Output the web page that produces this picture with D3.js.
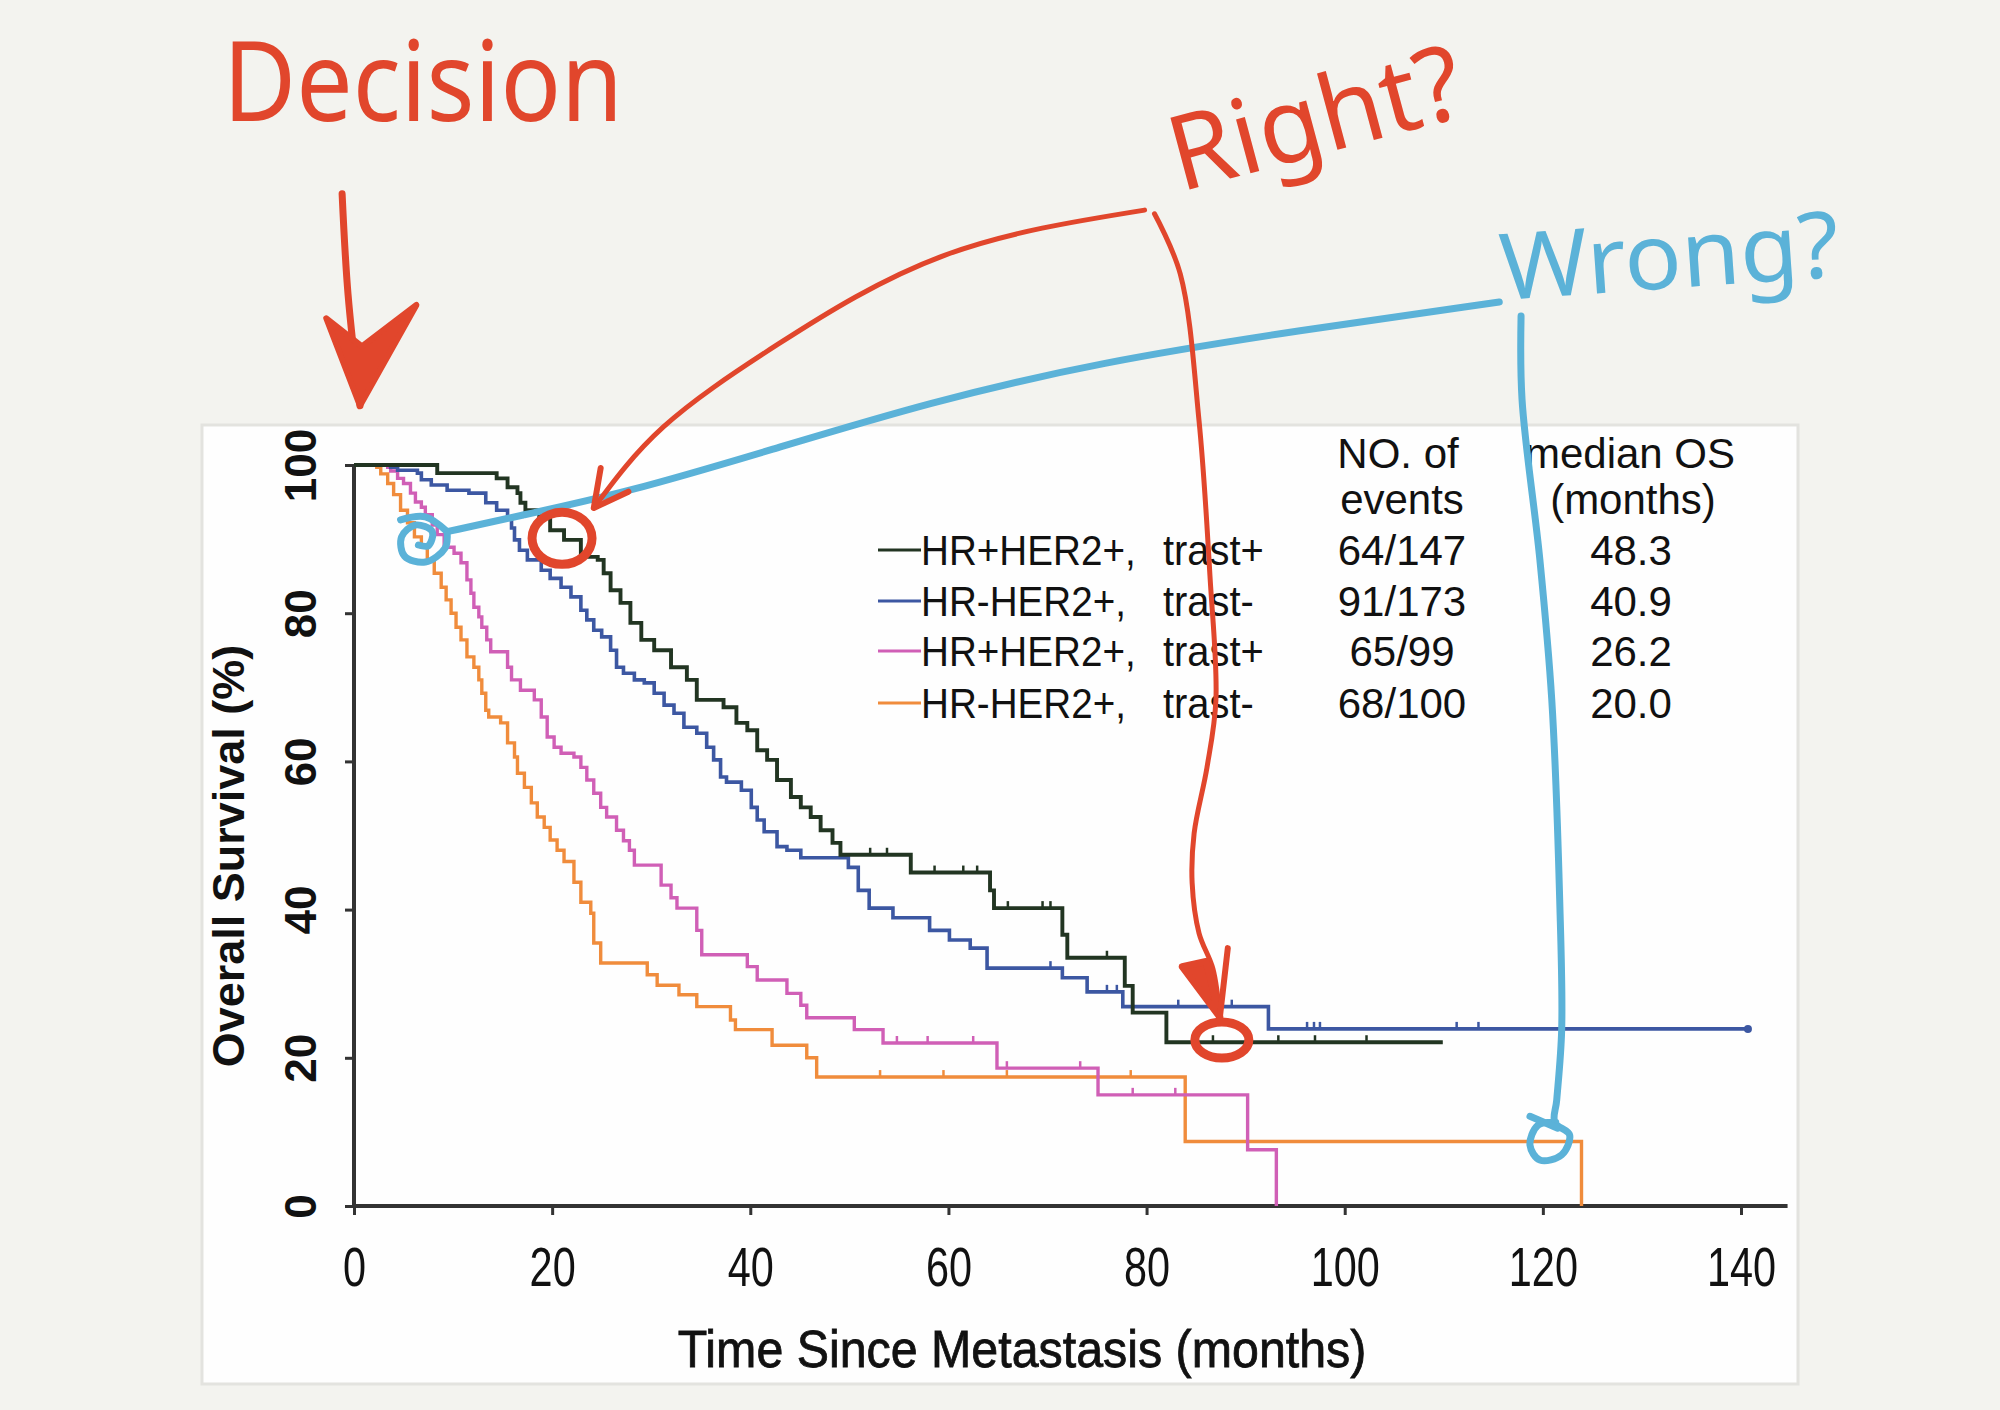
<!DOCTYPE html>
<html>
<head>
<meta charset="utf-8">
<script src="https://cdn.jsdelivr.net/npm/d3@7"></script>
<style>
  body { margin: 0; background: #f3f3ef; }
  svg { display: block; }
</style>
</head>
<body>
<div id="chart"></div>
<script>
// Kaplan-Meier steps: [months, survival %]
const greenSteps = [[0,100],[8.4,98.9],[14.4,98.2],[15.5,97.0],[16.5,96.2],[16.8,94.9],[17.3,93.9],[18.7,93.0],[19.8,91.2],[21.2,89.9],[22.9,87.6],[24.6,87.2],[25.2,85.4],[25.9,83.1],[26.9,81.4],[27.9,78.7],[29.0,76.4],[30.3,75.0],[32.0,72.7],[33.6,71.0],[34.6,68.3],[37.3,67.3],[38.6,65.2],[39.7,64.2],[40.7,61.5],[41.7,60.2],[42.7,57.5],[44.1,55.2],[45.1,53.8],[46.1,52.5],[47.1,50.7],[48.3,49.0],[49.1,47.4],[56.2,45.0],[64.2,42.6],[64.6,40.2],[71.5,36.6],[72.0,33.5],[77.8,29.7],[78.6,26.1],[82.0,22.1],[109.9,22.1]];
const blueSteps = [[0,100],[3.7,99.7],[4.4,99.3],[6.4,98.9],[6.8,98.0],[7.8,97.3],[9.4,96.6],[11.6,96.2],[13.3,94.9],[14.4,93.9],[15.5,92.8],[15.9,91.5],[16.2,89.9],[16.7,88.5],[17.5,87.2],[18.9,85.8],[19.8,84.7],[20.9,83.5],[21.9,82.2],[22.9,80.4],[23.5,79.1],[24.2,77.7],[25.0,76.8],[25.9,75.0],[26.5,72.7],[27.2,71.9],[28.3,71.0],[29.3,70.6],[30.3,69.2],[31.3,67.6],[32.3,66.5],[33.3,64.6],[34.6,63.8],[35.6,61.9],[36.3,60.2],[37.0,57.9],[37.6,57.2],[39.1,56.1],[40.1,53.8],[40.7,52.1],[41.4,50.5],[42.7,48.5],[43.7,48.0],[45.1,47.0],[49.9,45.7],[50.9,42.6],[52.0,40.2],[54.4,38.9],[58.1,37.2],[60.1,35.9],[62.2,34.8],[63.9,32.1],[71.5,30.8],[74.0,28.9],[77.6,26.9],[92.3,23.9],[140.7,23.9]];
const pinkSteps = [[0,100],[3.4,99.7],[3.7,99.2],[4.4,98.2],[5.0,97.5],[5.7,96.2],[6.2,95.0],[6.8,94.3],[7.2,93.3],[7.9,91.9],[8.4,90.6],[9.1,88.9],[10.1,88.1],[10.8,86.8],[11.4,84.5],[11.8,82.7],[12.1,80.8],[12.6,79.5],[12.9,78.1],[13.4,76.4],[13.8,74.8],[15.5,72.7],[15.9,71.0],[16.8,69.6],[18.2,68.3],[18.9,66.0],[19.5,63.3],[20.2,61.9],[20.9,61.1],[22.2,60.6],[22.9,59.2],[23.5,57.5],[24.2,55.7],[24.9,53.8],[25.5,52.5],[26.5,50.7],[27.2,49.3],[27.8,48.0],[28.3,46.0],[31.0,43.3],[32.0,41.6],[32.6,40.2],[34.6,37.2],[35.1,33.9],[39.7,32.3],[40.7,30.5],[43.7,28.7],[45.1,27.1],[45.7,25.4],[50.5,23.8],[53.4,22.0],[64.9,18.6],[75.1,15.0],[90.2,7.6],[93.1,0]];
const orangeSteps = [[0,100],[2.3,99.7],[2.7,98.8],[3.4,97.5],[4.0,96.0],[4.7,93.9],[5.4,92.2],[6.1,90.3],[6.8,88.9],[7.4,87.2],[8.1,85.4],[8.8,83.5],[9.3,81.8],[9.8,80.0],[10.3,78.1],[10.8,76.4],[11.4,74.1],[12.1,72.7],[12.6,71.0],[12.9,69.2],[13.3,66.9],[13.6,66.0],[14.8,65.2],[15.5,62.5],[16.2,60.6],[16.5,58.4],[17.2,56.5],[17.9,54.4],[18.5,52.5],[19.2,51.1],[19.8,49.4],[20.5,48.0],[21.2,46.5],[22.2,43.7],[22.9,41.0],[23.9,39.5],[24.2,35.5],[24.9,32.8],[29.6,31.2],[30.6,29.8],[32.8,28.5],[34.6,26.9],[38.0,25.1],[38.5,23.8],[42.2,21.7],[45.7,20.0],[46.7,17.4],[83.9,8.7],[123.9,0]];

// censored observations (months) seen as small ticks on the curves
const greenCensor = [52.1, 53.8, 58.6, 61.5, 62.9, 66.0, 69.5, 70.3, 76.0, 86.7, 93.3, 97.0, 102.2];
const blueCensor = [70.3, 76.0, 77.0, 83.2, 88.6, 96.2, 96.9, 97.5, 111.3, 113.5];
const pinkCensor = [54.8, 57.9, 62.5, 65.9, 73.3, 78.6, 82.9];
const orangeCensor = [53.1, 59.5, 65.9, 78.4];

// legend table
const groupLabels = ["HR+HER2+,", "HR-HER2+,", "HR+HER2+,", "HR-HER2+,"];
const trastLabels = ["trast+", "trast-", "trast+", "trast-"];
const eventCounts = ["64/147", "91/173", "65/99", "68/100"];
const medianOS = ["48.3", "40.9", "26.2", "20.0"];
const seriesColors = ["#223522", "#3c57a2", "#d05fb6", "#f08c3c"];

const xTicks = [0, 20, 40, 60, 80, 100, 120, 140];
const yTicks = [0, 20, 40, 60, 80, 100];

// hand drawn marks, in chart units [months, %]
const decisionShaft = [[-1.2,136.6],[-0.6,123],[0.6,108.0]];
const decisionHead = [[0.6,108.0],[-2.8,119.8],[0.8,116.0],[6.3,121.6]];
const rightArcLeft = [[79.8,134.4],[59.6,128.3],[42.8,116.3],[31.2,105.1],[24.2,94.2]];
const rightHeadLeft = [[24.9,99.6],[24.2,94.2],[27.7,96.4]];
const rightArcDown = [[80.8,133.9],[83.4,125.8],[85.3,105.9],[86.4,85.0],[87.0,68.3],[86.1,59.2],[84.8,50.3],[84.6,43.6],[85.3,36.8],[86.7,32.0],[87.4,25.5]];
const rightHeadDown = [[83.6,32.3],[87.4,25.5],[86.0,33.0]];
const rightHeadDownWing = [[87.4,25.5],[88.2,34.8]];
const rightRings = [[21.0,90.1,30,26],[87.6,22.4,27,18]];
const wrongArcLeft = [[115.6,122.0],[95.5,118.2],[75.3,113.9],[58.1,108.5],[42.0,102.0],[27.6,96.3],[16.2,93.0],[9.4,91.0]];
const wrongLoopLeft = [[9.4,91.0],[9.2,88.8],[7.2,86.9],[5.1,87.7],[4.8,90.3],[6.2,91.9],[7.9,91.0],[7.5,89.1],[6.5,89.2]];
const wrongTailLeft = [[4.7,92.6],[7.2,93.0],[9.4,91.0]];
const wrongArcDown = [[117.8,120.1],[117.9,108.8],[119.7,87.2],[120.9,68.3],[121.7,41.3],[121.9,23.8],[121.4,14.3],[121.2,11.3],[122.7,9.6],[121.9,6.9],[119.7,6.2],[118.7,8.2],[119.5,10.9],[121.3,11.3]];
const wrongTailDown = [[118.7,12.1],[121.5,10.5]];

const red = "#e1462c", cyan = "#5bb2d8";

const svg = d3.select("#chart").append("svg")
    .attr("width", 2000)
    .attr("height", 1410);

svg.append("rect")
    .attr("width", 2000).attr("height", 1410)
    .attr("fill", "#f3f3ef");

// white slide panel
svg.append("rect")
    .attr("x", 202).attr("y", 425)
    .attr("width", 1596).attr("height", 959)
    .attr("fill", "#fefefe")
    .attr("stroke", "#e3e3df")
    .attr("stroke-width", 3);

const x = d3.scaleLinear().domain([0, 140]).range([354, 1741]);
const y = d3.scaleLinear().domain([0, 100]).range([1206, 465]);

// axes
const xAxis = svg.append("g")
    .attr("transform", "translate(0," + y(0) + ")")
    .call(d3.axisBottom(x).tickValues(xTicks).tickSize(9));
xAxis.select(".domain").remove();
xAxis.selectAll(".tick line").attr("stroke", "#333").attr("stroke-width", 3);
xAxis.selectAll(".tick text")
    .attr("y", 80).attr("dy", 0)
    .attr("transform", "scale(0.74,1)")
    .attr("fill", "#111")
    .style("font-family", "Liberation Sans, Arial, sans-serif")
    .style("font-size", "56px");

const yAxis = svg.append("g")
    .attr("transform", "translate(" + x(0) + ",0)")
    .call(d3.axisLeft(y).tickValues(yTicks).tickSize(9));
yAxis.select(".domain").remove();
yAxis.selectAll(".tick line").attr("stroke", "#333").attr("stroke-width", 3);
yAxis.selectAll(".tick text")
    .attr("x", 0).attr("dy", 0)
    .attr("transform", "translate(-38,0) rotate(-90)")
    .attr("text-anchor", "middle")
    .attr("fill", "#111")
    .style("font-family", "Liberation Sans, Arial, sans-serif")
    .style("font-size", "44px")
    .style("font-weight", "bold");

svg.append("line")
    .attr("x1", x(0) - 2).attr("x2", x(144.7))
    .attr("y1", y(0)).attr("y2", y(0))
    .attr("stroke", "#333").attr("stroke-width", 4);
svg.append("line")
    .attr("x1", x(0)).attr("x2", x(0))
    .attr("y1", y(0)).attr("y2", y(100))
    .attr("stroke", "#333").attr("stroke-width", 4);

svg.append("text")
    .attr("transform", "translate(244,856) rotate(-90)")
    .attr("text-anchor", "middle")
    .attr("fill", "#111")
    .style("font-family", "Liberation Sans, Arial, sans-serif")
    .style("font-size", "45px")
    .style("font-weight", "bold")
    .text("Overall Survival (%)");

svg.append("text")
    .attr("transform", "translate(1022,1367) scale(0.93,1)")
    .attr("text-anchor", "middle")
    .attr("fill", "#111")
    .attr("stroke", "#111")
    .attr("stroke-width", 0.8)
    .style("font-family", "Liberation Sans, Arial, sans-serif")
    .style("font-size", "52px")
    .text("Time Since Metastasis (months)");

// survival curves
const step = d3.line()
    .x(d => x(d[0]))
    .y(d => y(d[1]))
    .curve(d3.curveStepAfter);

const series = [
    { steps: orangeSteps, censor: orangeCensor, color: seriesColors[3], width: 3.4 },
    { steps: pinkSteps, censor: pinkCensor, color: seriesColors[2], width: 3.4 },
    { steps: blueSteps, censor: blueCensor, color: seriesColors[1], width: 3.6 },
    { steps: greenSteps, censor: greenCensor, color: seriesColors[0], width: 3.9 }
];

// survival level at a censored time = last step at or before it
function levelAt(steps, t) {
    let s = steps[0][1];
    steps.forEach(d => { if (d[0] <= t) s = d[1]; });
    return s;
}

const curveG = svg.append("g");
series.forEach(sr => {
    curveG.append("path")
        .attr("d", step(sr.steps))
        .attr("fill", "none")
        .attr("stroke", sr.color)
        .attr("stroke-width", sr.width);
    curveG.selectAll(null)
        .data(sr.censor)
        .join("line")
        .attr("x1", d => x(d)).attr("x2", d => x(d))
        .attr("y1", d => y(levelAt(sr.steps, d)) - 7)
        .attr("y2", d => y(levelAt(sr.steps, d)))
        .attr("stroke", sr.color)
        .attr("stroke-width", 2.5);
});
// last blue observation marker
curveG.append("circle")
    .attr("cx", x(blueSteps[blueSteps.length - 1][0]))
    .attr("cy", y(blueSteps[blueSteps.length - 1][1]))
    .attr("r", 4)
    .attr("fill", seriesColors[1]);

// legend / table
const rowY = [565, 616, 666, 718];
const legendFont = "Liberation Sans, Arial, sans-serif";
const legend = svg.append("g")
    .style("font-family", legendFont)
    .attr("fill", "#111");

legend.selectAll("line.key")
    .data(groupLabels)
    .join("line")
    .attr("class", "key")
    .attr("x1", 878).attr("x2", 921)
    .attr("y1", (d, i) => rowY[i] - 15)
    .attr("y2", (d, i) => rowY[i] - 15)
    .attr("stroke", (d, i) => seriesColors[i])
    .attr("stroke-width", 3);

legend.selectAll("text.group")
    .data(groupLabels)
    .join("text")
    .attr("class", "group")
    .attr("transform", (d, i) => "translate(921," + rowY[i] + ") scale(0.92,1)")
    .style("font-size", "42px")
    .text(d => d);

legend.selectAll("text.trast")
    .data(trastLabels)
    .join("text")
    .attr("class", "trast")
    .attr("transform", (d, i) => "translate(1163," + rowY[i] + ") scale(0.95,1)")
    .style("font-size", "42px")
    .text(d => d);

legend.selectAll("text.events")
    .data(eventCounts)
    .join("text")
    .attr("class", "events")
    .attr("x", 1402)
    .attr("y", (d, i) => rowY[i])
    .attr("text-anchor", "middle")
    .style("font-size", "42px")
    .text(d => d);

legend.selectAll("text.median")
    .data(medianOS)
    .join("text")
    .attr("class", "median")
    .attr("x", 1631)
    .attr("y", (d, i) => rowY[i])
    .attr("text-anchor", "middle")
    .style("font-size", "42px")
    .text(d => d);

[["NO. of", 1398, 468], ["events", 1402, 514], ["median OS", 1630, 468], ["(months)", 1633, 514]]
    .forEach(h => {
        legend.append("text")
            .attr("x", h[1]).attr("y", h[2])
            .attr("text-anchor", "middle")
            .style("font-size", "42px")
            .text(h[0]);
    });

// hand drawn annotations on top
const inkLoop = d3.line()
    .x(d => x(d[0]))
    .y(d => y(d[1]))
    .curve(d3.curveCatmullRom.alpha(0.5));
const inkSmooth = d3.line()
    .x(d => x(d[0]))
    .y(d => y(d[1]))
    .curve(d3.curveBasis);
const inkNatural = d3.line()
    .x(d => x(d[0]))
    .y(d => y(d[1]))
    .curve(d3.curveNatural);
const inkStraight = d3.line()
    .x(d => x(d[0]))
    .y(d => y(d[1]));

const notes = svg.append("g")
    .attr("fill", "none")
    .attr("stroke-linecap", "round")
    .attr("stroke-linejoin", "round");

// cyan strokes
notes.append("path").attr("d", inkSmooth(wrongArcLeft)).attr("stroke", cyan).attr("stroke-width", 7);
notes.append("path").attr("d", inkLoop(wrongLoopLeft)).attr("stroke", cyan).attr("stroke-width", 7);
notes.append("path").attr("d", inkLoop(wrongTailLeft)).attr("stroke", cyan).attr("stroke-width", 7);
notes.append("path").attr("d", inkLoop(wrongArcDown)).attr("stroke", cyan).attr("stroke-width", 7);
notes.append("path").attr("d", inkLoop(wrongTailDown)).attr("stroke", cyan).attr("stroke-width", 7);

// red strokes
notes.append("path").attr("d", inkLoop(decisionShaft)).attr("stroke", red).attr("stroke-width", 7);
notes.append("path").attr("d", inkStraight(decisionHead) + "Z")
    .attr("stroke", red).attr("stroke-width", 6).attr("fill", red);
notes.append("path").attr("d", inkNatural(rightArcLeft)).attr("stroke", red).attr("stroke-width", 5);
notes.append("path").attr("d", inkStraight(rightHeadLeft)).attr("stroke", red).attr("stroke-width", 6);
notes.append("path").attr("d", inkLoop(rightArcDown)).attr("stroke", red).attr("stroke-width", 5);
notes.append("path").attr("d", inkStraight(rightHeadDown) + "Z")
    .attr("stroke", red).attr("stroke-width", 7).attr("fill", red);
notes.append("path").attr("d", inkStraight(rightHeadDownWing)).attr("stroke", red).attr("stroke-width", 6);
notes.selectAll("ellipse")
    .data(rightRings)
    .join("ellipse")
    .attr("cx", d => x(d[0]))
    .attr("cy", d => y(d[1]))
    .attr("rx", d => d[2])
    .attr("ry", d => d[3])
    .attr("stroke", red)
    .attr("stroke-width", 9);

const handFont = "Noto Sans, DejaVu Sans, sans-serif";
svg.append("text")
    .attr("x", 223).attr("y", 121)
    .attr("textLength", 400).attr("lengthAdjust", "spacingAndGlyphs")
    .attr("fill", red)
    .style("font-family", handFont).style("font-size", "112px")
    .text("Decision");

svg.append("text")
    .attr("transform", "translate(1180,192) rotate(-15)")
    .attr("textLength", 300).attr("lengthAdjust", "spacingAndGlyphs")
    .attr("fill", red)
    .style("font-family", handFont).style("font-size", "104px")
    .text("Right?");

svg.append("text")
    .attr("transform", "translate(1502,300) rotate(-4)")
    .attr("textLength", 340).attr("lengthAdjust", "spacingAndGlyphs")
    .attr("fill", cyan)
    .style("font-family", handFont).style("font-size", "92px")
    .text("Wrong?");
</script>
</body>
</html>
